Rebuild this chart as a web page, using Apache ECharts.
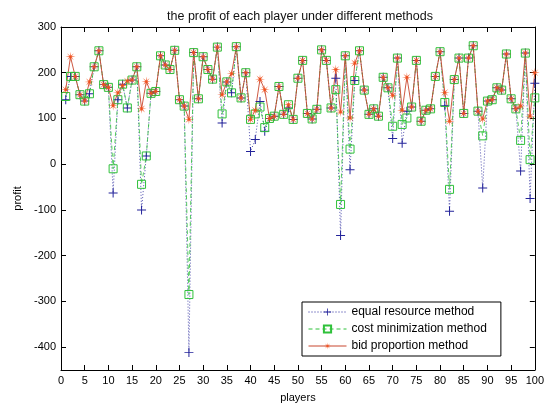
<!DOCTYPE html>
<html><head><meta charset="utf-8">
<script src="https://cdn.jsdelivr.net/npm/echarts@6/dist/echarts.min.js"></script>
<style>html,body{margin:0;padding:0;background:#fff}#c{width:547px;height:408px}</style>
</head><body><div id="c"></div>
<script>
const players = [1,2,3,4,5,6,7,8,9,10,11,12,13,14,15,16,17,18,19,20,21,22,23,24,25,26,27,28,29,30,31,32,33,34,35,36,37,38,39,40,41,42,43,44,45,46,47,48,49,50,51,52,53,54,55,56,57,58,59,60,61,62,63,64,65,66,67,68,69,70,71,72,73,74,75,76,77,78,79,80,81,82,83,84,85,86,87,88,89,90,91,92,93,94,95,96,97,98,99,100];

const equalResource = [141,192,192,152,138,154,213,248,174,168,-63,141,175,123,184,213,-100,18,155,159,
237,217,207,249,141,127,-412,244,143,235,207,186,256,90,180,156,257,145,200,28,
54,137,72,100,105,170,109,123,98,188,227,111,99,120,250,227,123,188,-156,237,
-12,183,248,162,109,121,105,190,167,56,232,46,116,125,227,94,118,121,192,246,
128,-103,185,232,111,232,259,116,-52,138,141,167,162,241,143,121,-15,243,-75,177];

const costMinimization = [148,192,192,152,138,154,213,248,174,168,-10,141,175,123,184,213,-44,18,155,159,
237,217,207,249,141,127,-285,244,143,235,207,186,256,110,180,156,257,145,200,98,
110,125,80,100,105,170,109,130,98,188,227,111,99,120,250,227,123,163,-88,237,
33,183,248,162,109,121,105,190,167,83,232,87,101,125,227,94,118,121,192,246,
135,-55,185,232,111,232,259,116,62,138,141,167,162,241,143,121,52,243,10,145];

const bidProportion = [163,235,192,152,138,180,213,248,174,168,128,156,172,182,184,213,121,181,155,159,
237,217,207,249,141,127,98,244,143,235,207,186,256,152,180,198,257,145,200,98,
118,186,163,100,105,170,109,130,98,188,227,111,99,120,250,227,123,207,114,237,
101,221,248,162,109,121,105,190,167,150,232,118,190,125,227,94,118,121,192,246,
157,94,185,232,111,232,259,116,99,138,141,167,162,241,143,121,127,243,105,200];

const xTicks = [0,5,10,15,20,25,30,35,40,45,50,55,60,65,70,75,80,85,90,95,100];
const yTicks = [-400,-300,-200,-100,0,100,200,300];
const seriesNames = ['equal resource method','cost minimization method','bid proportion method'];

function pairs(vals){ return players.map((p,i)=>[p, vals[i]]); }

// marker shapes
const plusPath = 'path://M4.45,0H5.55V4.45H10V5.55H5.55V10H4.45V5.55H0V4.45H4.45Z';
let star = 'path://';
for (let k=0;k<16;k++){
  const a = k*Math.PI/8 - Math.PI/2;
  const r = (k%2===0) ? 5 : 1.1;
  star += (k===0?'M':'L') + (5+r*Math.cos(a)).toFixed(3) + ',' + (5+r*Math.sin(a)).toFixed(3);
}
star += 'Z';

const FONT = 'Liberation Sans, Arial, sans-serif';
const chart = echarts.init(document.getElementById('c'), null, {renderer:'canvas'});
const axisCommon = {
  axisLine:{show:true,onZero:false,lineStyle:{color:'#000',width:1}},
  splitLine:{show:false}
};
chart.setOption({
  backgroundColor:'#fff',
  animation:false,
  title:{text:'the profit of each player under different methods', left:295, top:5, textAlign:'center',
    textStyle:{fontSize:12.5, fontWeight:'normal', color:'#111', fontFamily:FONT}},
  grid:{left:61, right:9, top:27, bottom:36, containLabel:false},
  xAxis:[
    Object.assign({type:'value', min:0, max:100, interval:5, position:'bottom',
      axisTick:{inside:true, length:5, lineStyle:{color:'#000'}},
      axisLabel:{color:'#000', fontSize:11, fontFamily:FONT, margin:5},
      name:'players', nameLocation:'middle', nameGap:22,
      nameTextStyle:{color:'#000', fontSize:11, fontFamily:FONT}}, axisCommon),
    Object.assign({type:'value', min:0, max:100, interval:5, position:'top',
      axisTick:{inside:true, length:5, lineStyle:{color:'#000'}},
      axisLabel:{show:false}}, axisCommon)
  ],
  yAxis:[
    Object.assign({type:'value', min:-450, max:300, position:'left',
      axisTick:{inside:true, length:5, customValues:yTicks, lineStyle:{color:'#000'}},
      axisLabel:{customValues:yTicks, color:'#000', fontSize:11, fontFamily:FONT, margin:5},
      name:'profit', nameLocation:'middle', nameGap:37, nameRotate:90,
      nameTextStyle:{color:'#000', fontSize:11, fontFamily:FONT}}, axisCommon),
    Object.assign({type:'value', min:-450, max:300, position:'right',
      axisTick:{inside:true, length:5, customValues:yTicks, lineStyle:{color:'#000'}},
      axisLabel:{show:false}}, axisCommon)
  ],
  legend:{
    orient:'vertical', left:302, top:302,
    backgroundColor:'#fff', borderColor:'#000', borderWidth:1, borderRadius:0,
    padding:[4,14,4,6], itemGap:5, itemWidth:38, itemHeight:9,
    lineStyle:{width:1},
    textStyle:{fontSize:12, color:'#000', fontFamily:FONT},
    data:seriesNames
  },
  series:[
    {name:seriesNames[0], type:'line', data:pairs(equalResource),
      symbol:plusPath, symbolSize:9, showAllSymbol:true,
      lineStyle:{color:'#23239a', width:0.8, type:[1,2]},
      itemStyle:{color:'#23239a'}},
    {name:seriesNames[1], type:'line', data:pairs(costMinimization),
      symbol:'rect', symbolSize:8, showAllSymbol:true,
      lineStyle:{color:'#2fc13a', width:0.8, type:[4,3]},
      itemStyle:{color:'rgba(255,255,255,0)', borderColor:'#2fc13a', borderWidth:1}},
    {name:seriesNames[2], type:'line', data:pairs(bidProportion),
      symbol:star, symbolSize:10, showAllSymbol:true,
      lineStyle:{color:'#c8462e', width:0.9, type:'solid'},
      itemStyle:{color:'#f0501e'}}
  ]
});
</script></body></html>
